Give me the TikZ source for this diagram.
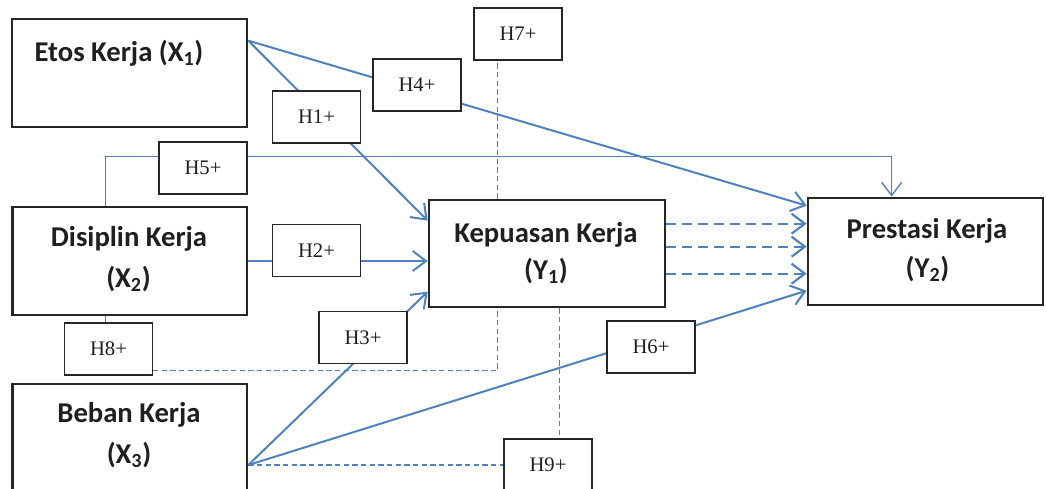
\documentclass[tikz,border=0pt]{standalone}
\usepackage{fontspec}
\setmainfont{Liberation Serif}
\newfontfamily\calfont{Carlito}
\usetikzlibrary{arrows.meta,calc}
\pgfdeclarelayer{background}
\pgfsetlayers{background,main}
\definecolor{lnblue}{HTML}{4F81BD}
\definecolor{txt}{HTML}{1F1F1F}
\begin{document}
\begin{tikzpicture}[x=0.75pt,y=-0.75pt,
 bigbox/.style={draw=black!85, line width=2pt, fill=white, inner sep=0pt},
 hbox/.style={draw=black!85, line width=0.8pt, fill=white, inner sep=0pt, minimum width=66pt, minimum height=39pt, font=\fontsize{15.5}{18}\selectfont, text=txt},
 lbl/.style={anchor=base, font=\calfont\bfseries\fontsize{21.5}{26}\selectfont, text=txt, inner sep=0pt},
 link/.style={draw=lnblue, line width=1.5pt},
 thinlink/.style={draw=lnblue, line width=1pt},
 dlink/.style={draw=lnblue, line width=1.1pt, dash pattern=on 4pt off 2.5pt},
 darrow/.style={draw=lnblue, line width=1.6pt, dash pattern=on 7pt off 5pt},
 tip/.style={-{Straight Barb[length=10pt,width=15pt]}}
]
\useasboundingbox (0,0) rectangle (1046,489);
\clip (0,0) rectangle (1046,489);

% main boxes
\node[bigbox, minimum width=176.25pt, minimum height=81pt] (etos) at (129.5,73) {};
\node[bigbox, minimum width=175.9pt, minimum height=81pt] (dis) at (129.75,261) {};
\node[bigbox, minimum width=175.9pt, minimum height=94.5pt] (beb) at (129.75,447) {};
\node[bigbox, minimum width=177pt, minimum height=80.25pt] (kep) at (547,253.5) {};
\node[bigbox, minimum width=176.25pt, minimum height=80.25pt] (pre) at (925.5,251.5) {};

% box texts
\node[lbl] (etosT) at (119,61) {Etos Kerja (X\textsubscript{1})};
\node[lbl] (disT1) at (129,246) {Disiplin Kerja};
\node[lbl] (disT2) at (128.5,287) {(X\textsubscript{2})};
\node[lbl] (bebT1) at (129,422) {Beban Kerja};
\node[lbl] (bebT2) at (129,463) {(X\textsubscript{3})};
\node[lbl] (kepT1) at (546,242) {Kepuasan Kerja};
\node[lbl] (kepT2) at (546,279) {(Y\textsubscript{1})};
\node[lbl] (preT1) at (927,238) {Prestasi Kerja};
\node[lbl] (preT2) at (927.5,277) {(Y\textsubscript{2})};

% hypothesis boxes
\node[hbox] (h1) at (316.5,117) {H1+};
\node[hbox] (h2) at (316.5,250.5) {H2+};
\node[hbox] (h3) at (363,337.5) {H3+};
\node[hbox] (h4) at (417,85) {H4+};
\node[hbox] (h5) at (203,168) {H5+};
\node[hbox] (h6) at (651,347) {H6+};
\node[hbox] (h7) at (518,34) {H7+};
\node[hbox] (h8) at (108.5,349) {H8+};
\node[hbox] (h9) at (548,465) {H9+};

\begin{pgfonlayer}{background}
\coordinate (eA) at ($(etos.north east)+(0,23)$);
\coordinate (bA) at (h9.west -| beb.east);
\coordinate (kT) at ($(kep.north west)+(70,0)$);
\coordinate (kB) at ($(kep.south west)+(70,0)$);
\coordinate (kB2) at ($(kep.south west)+(132,0)$);
\coordinate (dB) at ($(dis.south west)+(94.5,0)$);
\coordinate (dT) at ($(dis.north west)+(94.5,0)$);
\coordinate (h8R) at ($(h8.south east)+(0,-5)$);
% H1, H4
\draw[link,tip] (eA) -- ($(kep.north west)+(0,22)$);
\draw[link,tip] (eA) -- ($(pre.north west)+(0,9)$);
% H5
\draw[thinlink,tip] (dT) -- ++(0,-49) -| ($(pre.north west)+(85,0)$);
% H2
\draw[link,tip] (dis.east) -- (dis.east -| kep.west);
% H3, H6
\draw[link,tip] (bA) -- ($(kep.north west)+(0,93)$);
\draw[link,tip] (bA) -- ($(pre.north west)+(0,94)$);
% H7
\draw[dlink] (kT) -- (kT |- h7.south);
% H8
\draw[dlink] (dB) -- (dB |- h8.north);
\draw[dlink] (h8R) -| (kB);
% H9
\draw[dlink] (bA) -- (h9.west);
\draw[dlink] (kB2) -- (kB2 |- h9.north);
% Y1 -> Y2 dashed
\draw[darrow,tip] ($(kep.north east)+(0,25)$) -- ($(pre.north west)+(0,27)$);
\draw[darrow,tip] ($(kep.north east)+(0,48)$) -- ($(pre.north west)+(0,50)$);
\draw[darrow,tip] ($(kep.north east)+(0,75)$) -- ($(pre.north west)+(0,77)$);
\end{pgfonlayer}
\end{tikzpicture}
\end{document}
